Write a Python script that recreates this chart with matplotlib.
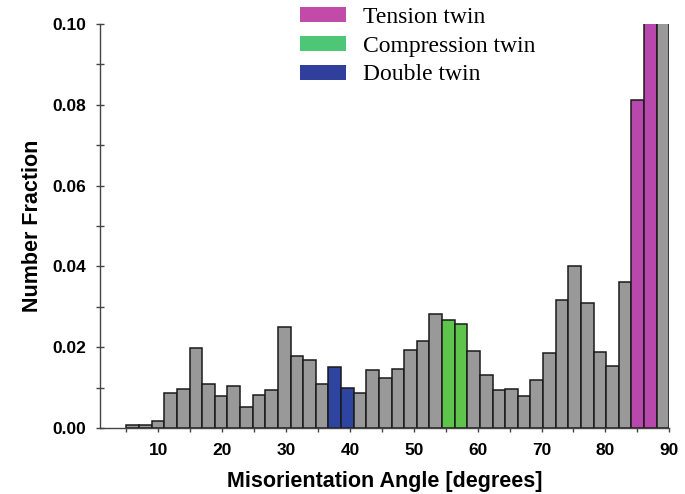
import numpy as np
import matplotlib
matplotlib.use('Agg')
import matplotlib.pyplot as plt
from matplotlib.patches import Patch
from matplotlib.ticker import MultipleLocator

# misorientation histogram, 43 bins between 5 and 90 degrees
bin_lo, bin_hi, n_bins = 5, 90, 43
fractions = [0.0008, 0.0008, 0.0018, 0.0086, 0.0096, 0.0199, 0.0109, 0.0078,
             0.0104, 0.0053, 0.0081, 0.0094, 0.0251, 0.0177, 0.0169, 0.0109,
             0.0150, 0.0098, 0.0086, 0.0144, 0.0125, 0.0147, 0.0192, 0.0215,
             0.0281, 0.0267, 0.0257, 0.0190, 0.0131, 0.0093, 0.0097, 0.0079,
             0.0119, 0.0185, 0.0316, 0.0402, 0.0309, 0.0188, 0.0154, 0.0361,
             0.0812, 0.1040, 0.1250]

# bins that belong to each twin type
tension_bins = [40, 41]
compression_bins = [25, 26]
double_bins = [16, 17]

twin_labels = ['Tension twin', 'Compression twin', 'Double twin']
bar_colors = ['#b848ab', '#5ec44c', '#2d44a1']
key_colors = ['#c24ba9', '#4dc776', '#2f3f9b']
plain_color = '#999999'

edges = np.linspace(bin_lo, bin_hi, n_bins + 1)
colors = [plain_color] * n_bins
for bins, c in zip([tension_bins, compression_bins, double_bins], bar_colors):
    for b in bins:
        colors[b] = c

fig = plt.figure(figsize=(6.85, 4.94), dpi=100)
ax = fig.add_axes([0.146, 0.1336, 0.831, 0.8178])

ax.bar(edges[:-1], fractions, width=np.diff(edges), align='edge',
       color=colors, edgecolor='#1a1a1a', linewidth=1.1, zorder=2)

ax.set_xlim(0.86, 90)
ax.set_ylim(0, 0.10)

for s in ['top', 'right']:
    ax.spines[s].set_visible(False)
for s in ['left', 'bottom']:
    ax.spines[s].set_color('#444444')
    ax.spines[s].set_linewidth(1.0)

ax.xaxis.set_major_locator(MultipleLocator(10))
ax.xaxis.set_minor_locator(MultipleLocator(5))
ax.yaxis.set_major_locator(MultipleLocator(0.02))
ax.yaxis.set_minor_locator(MultipleLocator(0.01))
ax.set_xticks(np.arange(10, 91, 10))
ax.set_yticklabels(['%.2f' % v for v in ax.get_yticks()])

ax.tick_params(axis='x', which='both', direction='out', length=3, width=1,
               color='#444444', pad=8)
ax.tick_params(axis='y', which='both', direction='inout', length=6, width=1,
               color='#444444', pad=7)
for lab in ax.get_xticklabels() + ax.get_yticklabels():
    lab.set_fontfamily('Liberation Sans')
    lab.set_fontweight('bold')
    lab.set_fontsize(12.5)

ax.set_xlabel('Misorientation Angle [degrees]', fontfamily='Liberation Sans',
              fontweight='bold', fontsize=15.5, labelpad=9)
ax.set_ylabel('Number Fraction', fontfamily='Liberation Sans',
              fontweight='bold', fontsize=15.5, labelpad=7)

handles = [Patch(facecolor=c, edgecolor='none') for c in key_colors]
fig.legend(handles, twin_labels, loc='upper left',
           bbox_to_anchor=(300 / 685, 0.986), frameon=False,
           prop={'family': 'Liberation Serif', 'size': 17},
           handlelength=1.95, handleheight=0.6, handletextpad=0.72,
           labelspacing=0.33, borderpad=0, borderaxespad=0)

fig.savefig('out.png', dpi=100)
